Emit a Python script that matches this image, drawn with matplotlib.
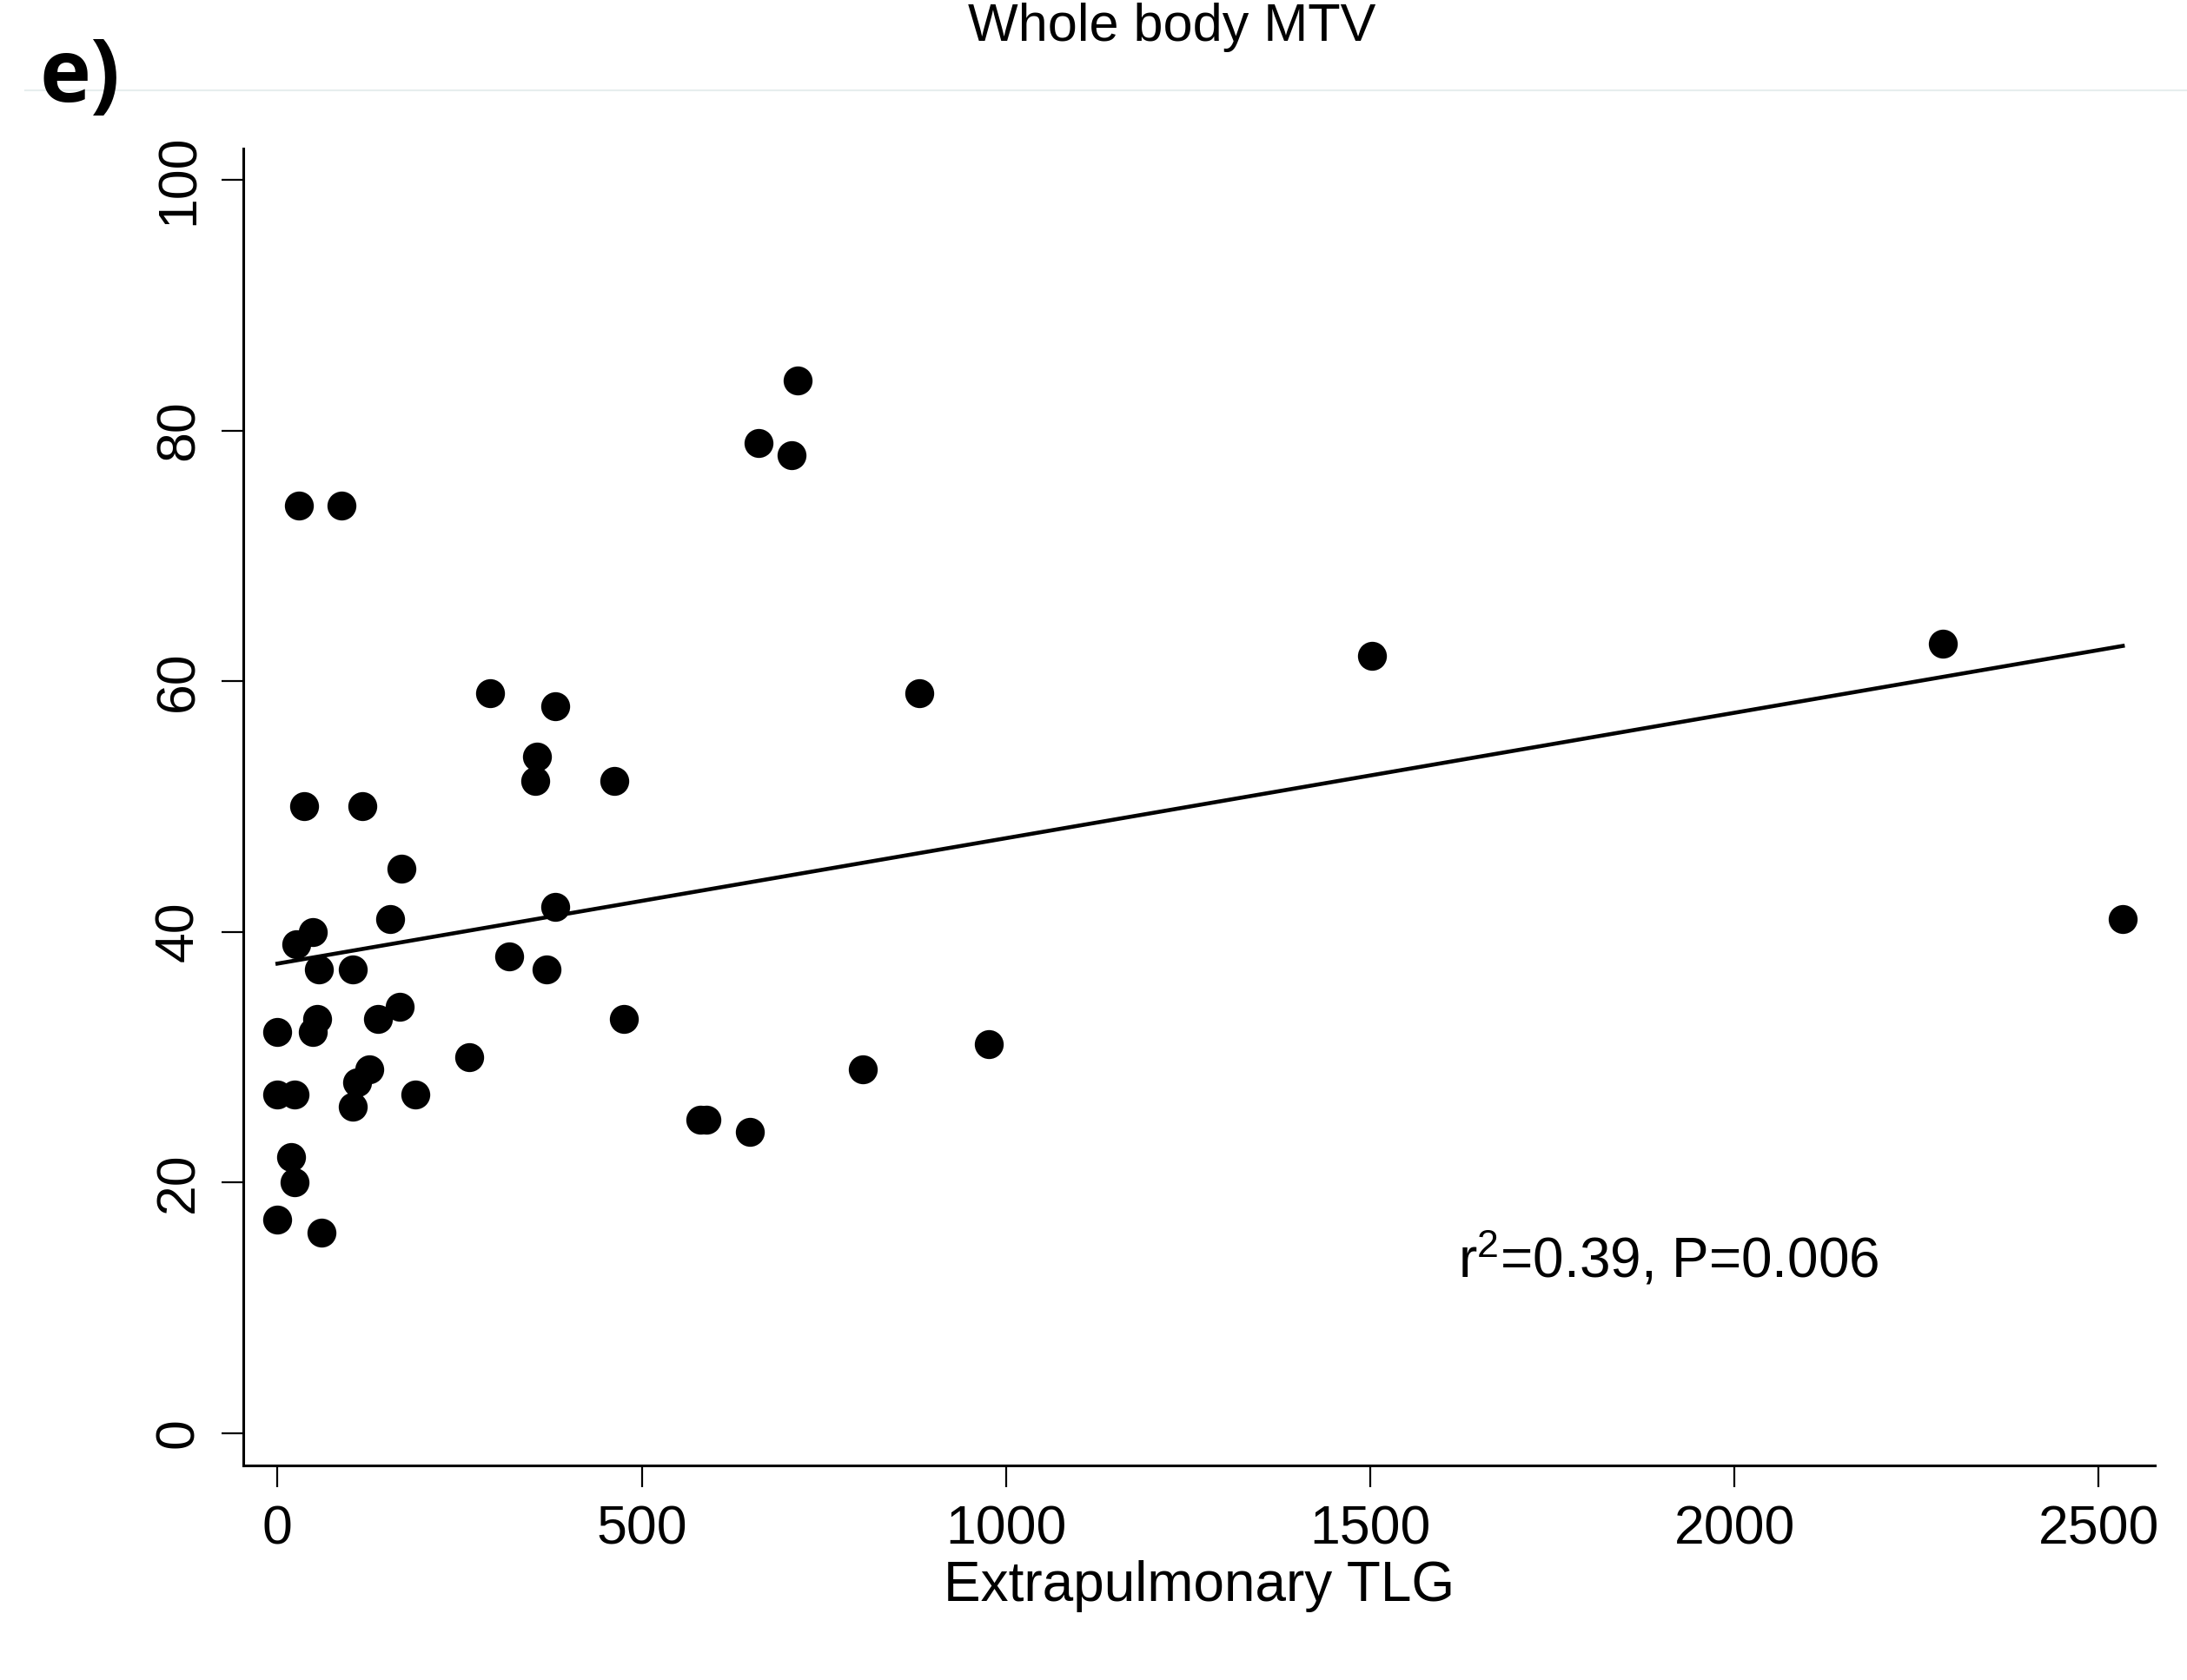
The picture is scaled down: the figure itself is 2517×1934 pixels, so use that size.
import numpy as np
import matplotlib
matplotlib.use('Agg')
import matplotlib.pyplot as plt
from matplotlib.lines import Line2D

plt.rcParams['font.family'] = ['Liberation Sans', 'DejaVu Sans']
plt.rcParams['mathtext.fontset'] = 'custom'
plt.rcParams['mathtext.rm'] = 'Liberation Sans'
plt.rcParams['mathtext.it'] = 'Liberation Sans'

# values
tlg = [29, 88, 660, 714, 706, 292, 381, 356, 354, 462, 37, 116, 170, 155, 381,
       26, 48, 57, 103, 318, 369, 0, 48, 54, 138, 168, 476, 126, 109, 103, 263,
       0, 24, 189, 19, 23, 0, 61, 580, 589, 649, 804, 977, 881, 1503, 2286, 2533]
mtv = [74, 74, 79, 84, 78, 59, 58, 54, 52, 52, 50, 50, 45, 41, 42,
       39, 40, 37, 37, 38, 37, 32, 32, 33, 33, 34, 33, 29, 28, 26, 30,
       27, 27, 27, 22, 20, 17, 16, 25, 25, 24, 29, 31, 59, 62, 63, 41]

fit_intercept = 37.45
fit_slope = 0.01001

xticks = [0, 500, 1000, 1500, 2000, 2500]
yticks = [0, 20, 40, 60, 80, 100]
stats_text = r'r$^{\mathrm{2}}$=0.39, P=0.006'

fig = plt.figure(figsize=(25.17, 19.34), dpi=100)
ax = fig.add_axes([0.1112, 0.1277, 0.8741, 0.7839])

ax.plot(tlg, mtv, 'o', color='black', markersize=24, markeredgewidth=0, zorder=3)

xs = np.array([min(tlg), max(tlg)])
ax.plot(xs, fit_intercept + fit_slope * xs, color='black', lw=3.3, zorder=2)

ax.set_xlim(-47, 2577)
ax.set_ylim(-2.6, 102.5)
ax.set_xticks(xticks)
ax.set_yticks(yticks)
ax.tick_params(axis='both', labelsize=45, length=18, width=1.6, color='black')
ax.tick_params(axis='x', pad=14)
ax.tick_params(axis='y', pad=14)
for lab in ax.get_yticklabels():
    lab.set_rotation(90)
    lab.set_va('center')

for side in ['top', 'right']:
    ax.spines[side].set_visible(False)
for side in ['left', 'bottom']:
    ax.spines[side].set_linewidth(2.2)

ax.set_xlabel('Extrapulmonary TLG', fontsize=46, labelpad=4)

ax.text(1621, 12.4, stats_text, fontsize=46, va='baseline', ha='left')

# title and panel letter
fig.text(1349 / 2517, 1 - 47 / 1934, 'Whole body MTV', fontsize=44,
         ha='center', va='baseline')
fig.text(46 / 2517, 1 - 117 / 1934, 'e)', fontsize=72, fontweight='bold',
         family=['Open Sans', 'DejaVu Sans'], ha='left', va='baseline')
fig.add_artist(Line2D([29 / 2517, 1], [1 - 104 / 1934] * 2, color='#e6eeee',
                      lw=1.5, transform=fig.transFigure))

fig.savefig('out.png', dpi=100)
